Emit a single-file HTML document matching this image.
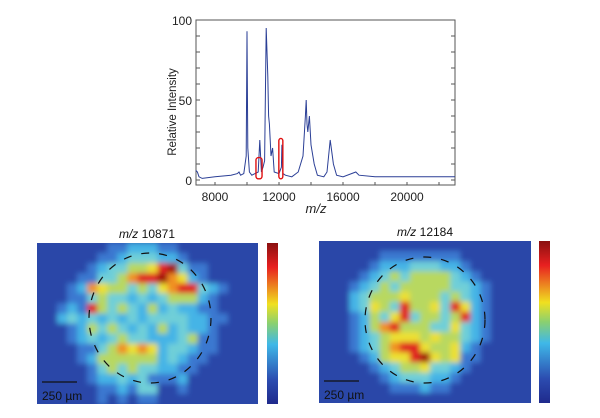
<!DOCTYPE html>
<html><head><meta charset="utf-8"><style>
body{margin:0;background:#fff;font-family:"Liberation Sans",sans-serif}
svg{display:block}
</style></head><body>
<svg id="fig" width="600" height="418" viewBox="0 0 600 418">
<defs>
<filter id="bl" x="0" y="0" width="1" height="1"><feGaussianBlur stdDeviation="2.6"/></filter>
<clipPath id="c1"><rect x="37" y="243" width="221" height="161"/></clipPath>
<clipPath id="c2"><rect x="319" y="241" width="212" height="162"/></clipPath>
<linearGradient id="jet" x1="0" y1="1" x2="0" y2="0">
<stop offset="0" stop-color="#1f2a8c"/><stop offset="0.15" stop-color="#2c4cb0"/><stop offset="0.37" stop-color="#3fb8e8"/><stop offset="0.5" stop-color="#8ad070"/><stop offset="0.62" stop-color="#f0e020"/><stop offset="0.85" stop-color="#e82020"/><stop offset="1" stop-color="#8a1010"/>
</linearGradient>
</defs>
<g id="spec"></g>
<g id="h1"></g>
<g id="h2"></g>
</svg>
<script>
const NS="http://www.w3.org/2000/svg";
const mzVals=[6800,6900,7000,7200,8000,9000,9400,9500,9600,9800,9950,10000,10050,10150,10300,10700,10800,10900,11000,11100,11200,11300,11350,11400,11500,11600,11700,12000,12150,12184,12250,12400,12800,13200,13500,13650,13700,13750,13800,13900,14000,14200,14400,14800,15000,15200,15400,15600,16000,16800,17000,18000,20000,23000];
const intVals=[6,5,2,1,2,3,4,5,3,4,15,93,20,5,3,5,25,5,8,12,95,65,40,35,15,20,5,4,8,22,4,3,2,5,15,40,50,35,30,40,22,10,3,2,5,25,10,3,2,5,3,2,2,2];
const boxCenters=[10750,12115];
const boxWidths=[380,250];
const boxTops=[14,26];
const yTicks=[0,50,100];
const xTicks=[8000,12000,16000,20000];
const heat1=["1111111223332211111111","1111112234443321111111","1111123445568942211111","1111224457889763211111","1112376554546788432111","1112245443434555321111","1123285454353433221111","1134343434344443322111","1112354543435343321111","1112343454433345221111","1111224576763443221111","1111235555553432211111","1111124545443322111111","1111123343422231111111","1111112232441121111111","1111112121221111111111"];
const heat2=["111111111111111111111","111111222222221111111","111112333444332111111","111123454555543211111","111234545555544321111","111345556555454321111","111346548556486321111","111235468455458321111","111235785554464321111","111234566656554321111","111234578865563211111","111123566896562211111","111112345564432111111","111111234443321111111","111111122232211111111","111111111111111111111"];
const cmap=["#1f2a8c","#2b47a8","#3a78d0","#45b4e6","#70cfd8","#b8d860","#ece030","#f09020","#e02020","#a01010"];
function el(t,a,p){const e=document.createElementNS(NS,t);for(const k in a)e.setAttribute(k,a[k]);p.appendChild(e);return e;}
const sp=document.getElementById('spec');
const L=196,R=455,T=20,B=185;
const xs=v=>215+(v-8000)*0.016, ys=v=>180-v*1.6;
const fr=el('rect',{x:L,y:T,width:R-L,height:B-T,fill:'none',stroke:'#555','stroke-width':1},sp);

for(let v=0;v<=100;v+=10){el('line',{x1:L,x2:L+4,y1:ys(v),y2:ys(v),stroke:'#555'},sp);el('line',{x1:R,x2:R-4,y1:ys(v),y2:ys(v),stroke:'#555'},sp);}
for(let v=8000;v<=22000;v+=2000){el('line',{x1:xs(v),x2:xs(v),y1:B,y2:B-3,stroke:'#555'},sp);}
yTicks.forEach(v=>{const t=el('text',{x:L-4,y:ys(v)+5,'text-anchor':'end','font-size':12,fill:'#222'},sp);t.textContent=v;
});
xTicks.forEach(v=>{const t=el('text',{x:xs(v),y:B+16,'text-anchor':'middle','font-size':12,fill:'#222'},sp);t.textContent=v;
});
const yt=el('text',{x:176,y:112,'text-anchor':'middle','font-size':11.5,fill:'#222',transform:'rotate(-90 176 112)'},sp);yt.textContent='Relative Intensity';

const xt=el('text',{x:316,y:213,'text-anchor':'middle','font-size':13,'font-style':'italic',fill:'#222'},sp);xt.textContent='m/z';

const line=el('polyline',{points:mzVals.map((m,i)=>xs(m).toFixed(1)+','+ys(intVals[i]).toFixed(1)).join(' '),fill:'none',stroke:'#2b3f96','stroke-width':1},sp);

boxCenters.forEach((c,i)=>{const x0=xs(c-boxWidths[i]/2),x1=xs(c+boxWidths[i]/2);
const r=el('rect',{x:x0,y:ys(boxTops[i]),width:x1-x0,height:ys(2)-ys(boxTops[i])+2,rx:2.5,fill:'none',stroke:'#e01010','stroke-width':1.4},sp);
});
function heat(g,data,x,y,w,h,clip,title,tx,ty,cbx,cby,cbh,dash){
const rows=data.length,cols=data[0].length,cw=w/cols,ch=h/rows;
el('rect',{x,y,width:w,height:h,fill:cmap[1]},g);
const cg=el('g',{'clip-path':`url(#${clip})`},g);const inner=el('g',{filter:'url(#bl)'},cg);
el('rect',{x:x-10,y:y-10,width:w+20,height:h+20,fill:cmap[1]},inner);
data.forEach((row,r)=>{[...row].forEach((v,c)=>{const cell=el('rect',{x:x+c*cw,y:y+r*ch,width:cw+0.5,height:ch+0.5,fill:cmap[+v]},inner);
});});
const e=el('ellipse',{cx:dash[0],cy:dash[1],rx:dash[2],ry:dash[3],fill:'none',stroke:'#111','stroke-width':1.2,'stroke-dasharray':'8 10'},cg);

el('line',{x1:x+5,x2:x+40,y1:y+h-22,y2:y+h-22,stroke:'#111','stroke-width':1.2},g);
const sb=el('text',{x:x+5,y:y+h-4,'font-size':12,fill:'#111'},g);sb.textContent='250 µm';

const ti=el('text',{x:tx,y:ty,'text-anchor':'middle','font-size':12,fill:'#111'},g);
ti.innerHTML='<tspan font-style="italic">m/z</tspan> '+title;

const cb=el('rect',{x:cbx,y:cby,width:11,height:cbh,fill:'url(#jet)'},g);
}
heat(document.getElementById('h1'),heat1,37,243,221,161,'c1','10871',147,238,267,243,161,[150,318,61,65]);
heat(document.getElementById('h2'),heat2,319,241,212,162,'c2','12184',425,236,539,241,162,[425,320,60,63]);
</script>
</body></html>
